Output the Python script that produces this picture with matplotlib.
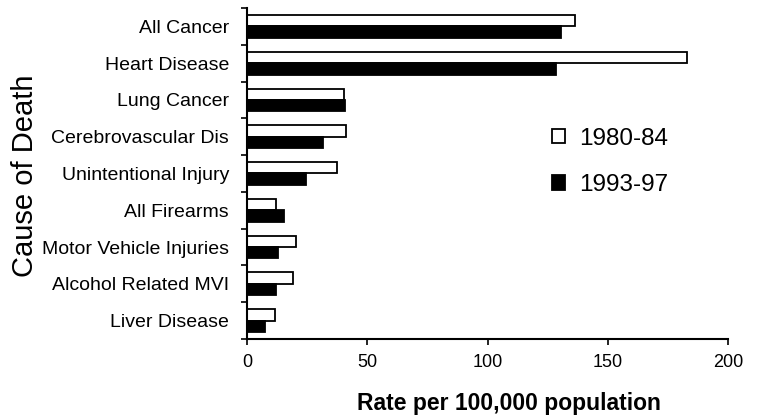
import numpy as np
import matplotlib.pyplot as plt
from matplotlib.patches import Patch

plt.rcParams['font.family'] = ['Liberation Sans', 'DejaVu Sans']

causes = ['All Cancer', 'Heart Disease', 'Lung Cancer', 'Cerebrovascular Dis',
          'Unintentional Injury', 'All Firearms', 'Motor Vehicle Injuries',
          'Alcohol Related MVI', 'Liver Disease']
rate_1980_84 = [136.5, 183, 40.5, 41.3, 37.4, 12.2, 20.3, 19.1, 11.5]
rate_1993_97 = [130.5, 128.4, 40.8, 31.6, 24.4, 15.4, 13.0, 12.0, 7.5]

fig = plt.figure(figsize=(7.68, 4.19), dpi=100)
ax = fig.add_axes([247 / 768, 1 - 339 / 419, (728 - 247) / 768, (339 - 8) / 419])

y = np.arange(len(causes))
h = 0.31
ax.barh(y - h / 2, rate_1980_84, height=h, color='white', edgecolor='black', linewidth=1.3)
ax.barh(y + h / 2, rate_1993_97, height=h, color='black', edgecolor='black', linewidth=1.3)

ax.set_ylim(len(causes) - 0.5, -0.5)
ax.set_xlim(0, 200)
ax.set_xticks([0, 50, 100, 150, 200])
ax.set_yticks(y)
ax.set_yticklabels(causes, fontsize=14)
ax.set_yticks(np.arange(-0.5, len(causes)), minor=True)
ax.tick_params(axis='y', which='major', length=0, pad=13)
ax.tick_params(axis='y', which='minor', length=4, width=1.2, direction='out')
ax.tick_params(axis='x', length=4, width=1.2, labelsize=13, pad=7)
ax.spines['top'].set_visible(False)
ax.spines['right'].set_visible(False)
ax.spines['left'].set_linewidth(1.5)
ax.spines['bottom'].set_linewidth(1.5)

ax.set_xlabel('Rate per 100,000 population', fontsize=16.5, fontweight='bold')
ax.xaxis.set_label_coords(509 / 768, 1 - 392 / 419, transform=fig.transFigure)
ax.set_ylabel('Cause of Death', fontsize=21)
ax.yaxis.set_label_coords(39 / 768, 1 - 176 / 419, transform=fig.transFigure)

handles = [Patch(facecolor='white', edgecolor='black', linewidth=1.3, label='1980-84'),
           Patch(facecolor='black', edgecolor='black', linewidth=1.3, label='1993-97')]
ax.legend(handles=handles, loc='upper left', bbox_to_anchor=(530 / 768, 1 - 106 / 419),
          bbox_transform=fig.transFigure, frameon=False, fontsize=17.5,
          handlelength=0.52, handleheight=0.52, handletextpad=0.6, labelspacing=1.0)

fig.savefig('out.png', dpi=100)
